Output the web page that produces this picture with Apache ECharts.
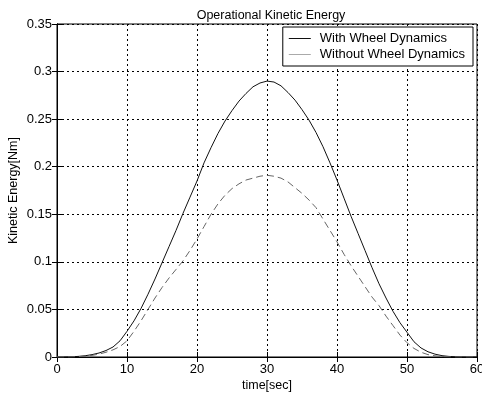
<!DOCTYPE html>
<html>
<head>
<meta charset="utf-8">
<script src="https://cdn.jsdelivr.net/npm/echarts@6/dist/echarts.min.js"></script>
<style>
  html, body { margin: 0; padding: 0; background: #fff; }
  #chart { width: 482px; height: 400px; }
</style>
</head>
<body>
<div id="chart"></div>
<script>
// Time samples in seconds
const times = [
  0, 1, 2, 3, 4, 5, 6, 7, 8, 9,
  10, 11, 12, 13, 14, 15, 16, 17, 18, 19,
  20, 21, 22, 23, 24, 25, 26, 27, 28, 29,
  30, 31, 32, 33, 34, 35, 36, 37, 38, 39,
  40, 41, 42, 43, 44, 45, 46, 47, 48, 49,
  50, 51, 52, 53, 54, 55, 56, 57, 58, 59, 60
];

// Kinetic energy [Nm] with wheel dynamics
const withWheel = [
  0, 0, 0.0002, 0.0006, 0.0013, 0.0025, 0.0042, 0.0068, 0.0105, 0.017,
  0.027, 0.038, 0.051, 0.066, 0.082, 0.099, 0.116, 0.133, 0.151, 0.168,
  0.185, 0.204, 0.220, 0.235, 0.248, 0.259, 0.269, 0.277, 0.284, 0.288,
  0.290, 0.289, 0.285, 0.278, 0.270, 0.260, 0.249, 0.236, 0.221, 0.204,
  0.186, 0.167, 0.148, 0.130, 0.112, 0.094, 0.077, 0.062, 0.048, 0.036,
  0.026, 0.016, 0.0095, 0.0055, 0.003, 0.0014, 0.0006, 0.0002, 0, 0, 0
];

// Kinetic energy [Nm] without wheel dynamics
const withoutWheel = [
  0, 0, 0.0001, 0.0004, 0.0009, 0.0017, 0.003, 0.005, 0.0075, 0.011,
  0.017, 0.027, 0.038, 0.050, 0.062, 0.073, 0.083, 0.092, 0.101, 0.112,
  0.124, 0.137, 0.150, 0.161, 0.170, 0.177, 0.182, 0.186, 0.188, 0.190,
  0.191, 0.190, 0.188, 0.184, 0.178, 0.172, 0.165, 0.157, 0.145, 0.133,
  0.121, 0.108, 0.096, 0.085, 0.074, 0.063, 0.054, 0.043, 0.033, 0.023,
  0.015, 0.009, 0.005, 0.0025, 0.0012, 0.0005, 0.0002, 0, 0, 0, 0
];

const seriesNames = ['With Wheel Dynamics', 'Without Wheel Dynamics'];
const xTicks = [0, 10, 20, 30, 40, 50, 60];
const yTicks = [0, 0.05, 0.1, 0.15, 0.2, 0.25, 0.3, 0.35];

const FONT = '"Liberation Sans", Arial, sans-serif';
const gridLine = { show: true, lineStyle: { color: '#000', type: [2, 3], width: 1 } };

const chart = echarts.init(document.getElementById('chart'), null, { renderer: 'canvas' });

const pairs = (vals) => times.map((t, i) => [t, vals[i]]);

chart.setOption({
  animation: false,
  backgroundColor: '#fff',
  title: {
    text: 'Operational Kinetic Energy',
    left: 266,
    textAlign: 'center',
    top: 4,
    textStyle: { fontFamily: FONT, fontSize: 12.5, fontWeight: 'normal', color: '#000' }
  },
  legend: {
    data: [
      { name: seriesNames[0], icon: 'rect', itemStyle: { color: '#111' } },
      { name: seriesNames[1], icon: 'rect', itemStyle: { color: '#aaa' } }
    ],
    orient: 'vertical',
    right: 9,
    top: 27,
    itemWidth: 22,
    itemHeight: 1,
    itemGap: 3,
    padding: [5, 8, 5, 6],
    borderColor: '#000',
    borderWidth: 1,
    borderRadius: 0,
    backgroundColor: '#fff',
    textStyle: { fontFamily: FONT, fontSize: 13, color: '#000', padding: [0, 0, 0, 4], lineHeight: 13 }
  },
  grid: {
    left: 57, top: 24, width: 420, height: 333,
    outerBoundsMode: 'none',
    containLabel: false,
    show: true, borderColor: '#000', borderWidth: 1, backgroundColor: 'transparent'
  },
  xAxis: [{
    type: 'value',
    min: xTicks[0], max: xTicks[xTicks.length - 1], interval: 10,
    name: 'time[sec]', nameLocation: 'middle', nameGap: 22,
    nameMoveOverlap: false,
    nameTextStyle: { fontFamily: FONT, fontSize: 12.5, color: '#000' },
    axisLine: { show: true, onZero: false, lineStyle: { color: '#000' } },
    axisTick: { show: true, inside: true, length: 5, lineStyle: { color: '#000' } },
    axisLabel: { margin: 6, fontFamily: FONT, fontSize: 13, color: '#000' },
    splitLine: gridLine
  }, {
    type: 'value', position: 'top',
    min: xTicks[0], max: xTicks[xTicks.length - 1], interval: 10,
    axisLine: { show: true, lineStyle: { color: '#000' } },
    axisTick: { show: true, inside: true, length: 5, lineStyle: { color: '#000' } },
    axisLabel: { show: false },
    splitLine: { show: false }
  }],
  yAxis: [{
    type: 'value',
    min: yTicks[0], max: yTicks[yTicks.length - 1], interval: 0.05,
    name: 'Kinetic Energy[Nm]', nameLocation: 'middle', nameGap: 37,
    nameMoveOverlap: false,
    nameTextStyle: { fontFamily: FONT, fontSize: 12.5, color: '#000' },
    axisLine: { show: true, onZero: false, lineStyle: { color: '#000' } },
    axisTick: { show: true, inside: true, length: 5, lineStyle: { color: '#000' } },
    axisLabel: { margin: 5, fontFamily: FONT, fontSize: 13, color: '#000' },
    splitLine: gridLine
  }, {
    type: 'value', position: 'right',
    min: yTicks[0], max: yTicks[yTicks.length - 1], interval: 0.05,
    axisLine: { show: true, lineStyle: { color: '#000' } },
    axisTick: { show: true, inside: true, length: 5, lineStyle: { color: '#000' } },
    axisLabel: { show: false },
    splitLine: { show: false }
  }],
  series: [{
    name: seriesNames[0],
    type: 'line',
    data: pairs(withWheel),
    symbol: 'none',
    lineStyle: { color: '#111', width: 1 },
    itemStyle: { color: '#111' }
  }, {
    name: seriesNames[1],
    type: 'line',
    data: pairs(withoutWheel),
    symbol: 'none',
    lineStyle: { color: '#666', width: 1, type: [7, 4] },
    itemStyle: { color: '#888' }
  }]
});
</script>
</body>
</html>
